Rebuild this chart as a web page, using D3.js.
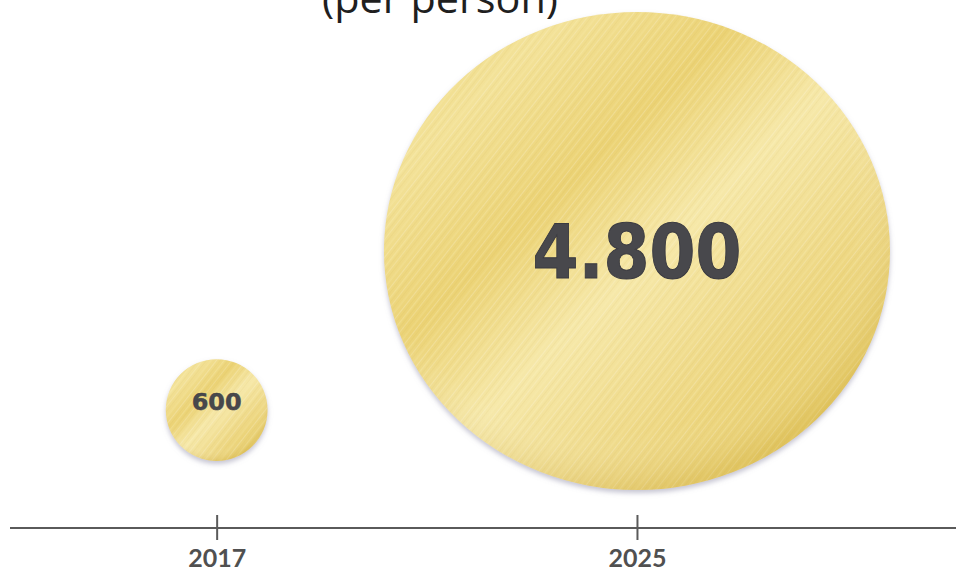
<!DOCTYPE html>
<html>
<head>
<meta charset="utf-8">
<script src="https://cdn.jsdelivr.net/npm/d3@7"></script>
<style>
  html, body { margin: 0; padding: 0; background: #ffffff; }
  svg { display: block; }
</style>
</head>
<body>
<script>
// ---- data ----
const titleText = "(per person)";
const years = [2017, 2025];
const values = [600, 4800];
const valueLabels = ["600", "4.800"];
const tickLabels = ["2017", "2025"];

const W = 956, H = 571;
const svg = d3.select("body").append("svg").attr("width", W).attr("height", H);

// ---- scales ----
const x = d3.scaleLinear().domain([2013, 2031]).range([6.5, 952.2]);
const rx = d3.scaleLinear().domain([0, 4800]).range([22, 253]);
const ry = d3.scaleLinear().domain([0, 4800]).range([24, 239]);
const cy = d3.scaleLinear().domain([600, 4800]).range([410, 251]);
const baseY = 528;

// ---- defs: brushed gold ----
const defs = svg.append("defs");
const grad = defs.append("linearGradient").attr("id", "gold")
  .attr("x1", 0).attr("y1", 0).attr("x2", 1).attr("y2", 1);
[[0, "#ecd577"], [0.18, "#f3e299"], [0.36, "#ebd274"], [0.52, "#f6e8a9"], [0.7, "#eed885"], [0.86, "#e7cc66"], [1, "#dfc257"]]
  .forEach(([o, c]) => grad.append("stop").attr("offset", o).attr("stop-color", c));

const rad = defs.append("radialGradient").attr("id", "shade")
  .attr("cx", 0.45).attr("cy", 0.4).attr("r", 0.6);
rad.append("stop").attr("offset", 0.8).attr("stop-color", "#ffffff").attr("stop-opacity", 0);
rad.append("stop").attr("offset", 1).attr("stop-color", "#c09c34").attr("stop-opacity", 0.2);

const pat = defs.append("pattern").attr("id", "brush")
  .attr("patternUnits", "userSpaceOnUse").attr("width", 23).attr("height", 40)
  .attr("patternTransform", "rotate(38)");
const streaks = [[1, 0.8, "#ffffff", 0.25], [4, 0.6, "#c9a63c", 0.14], [7, 1.3, "#fff8d2", 0.22],
  [10, 0.5, "#b8962f", 0.12], [13, 0.9, "#ffffff", 0.18], [16, 0.6, "#c7a33a", 0.15], [19.5, 1.2, "#fff6c8", 0.2]];
streaks.forEach(([px, w, c, op]) => pat.append("rect").attr("x", px).attr("y", 0)
  .attr("width", w).attr("height", 40).attr("fill", c).attr("opacity", op));

const filt = defs.append("filter").attr("id", "shadow").attr("x", "-10%").attr("y", "-10%")
  .attr("width", "120%").attr("height", "125%");
filt.append("feDropShadow").attr("dx", 0).attr("dy", 3).attr("stdDeviation", 2.5)
  .attr("flood-color", "#8c8aa6").attr("flood-opacity", 0.5);

// ---- bubbles ----
const data = years.map((yr, i) => ({ yr, v: values[i], label: valueLabels[i] }));
const g = svg.append("g");
const bub = g.selectAll("g.bub").data(data).join("g").attr("class", "bub");
bub.append("ellipse")
  .attr("cx", d => x(d.yr)).attr("cy", d => cy(d.v))
  .attr("rx", d => rx(d.v)).attr("ry", d => ry(d.v))
  .attr("fill", "url(#gold)").attr("filter", "url(#shadow)");
bub.append("ellipse")
  .attr("cx", d => x(d.yr)).attr("cy", d => cy(d.v))
  .attr("rx", d => rx(d.v)).attr("ry", d => ry(d.v))
  .attr("fill", "url(#brush)");
bub.append("ellipse")
  .attr("cx", d => x(d.yr)).attr("cy", d => cy(d.v))
  .attr("rx", d => rx(d.v)).attr("ry", d => ry(d.v))
  .attr("fill", "url(#shade)");

bub.append("text")
  .attr("x", d => x(d.yr))
  .attr("y", d => cy(d.v) + (d.v > 1000 ? 27 : 0))
  .attr("text-anchor", "middle")
  .attr("font-family", "'DejaVu Sans', Verdana, sans-serif")
  .attr("font-weight", "bold")
  .attr("font-size", d => d.v > 1000 ? 75 : 23)
  .attr("textLength", d => d.v > 1000 ? 209 : 50)
  .attr("lengthAdjust", "spacingAndGlyphs")
  .attr("fill", "#48484c")
  .attr("stroke", "#3a3a40").attr("stroke-width", d => d.v > 1000 ? 1 : 0.4)
  .text(d => d.label);

// ---- axis ----
svg.append("line").attr("x1", 10).attr("x2", W).attr("y1", baseY).attr("y2", baseY)
  .attr("stroke", "#5a5a5a").attr("stroke-width", 2.2);

const axis = d3.axisBottom(x).tickValues(years).tickSizeInner(12).tickSizeOuter(0)
  .tickPadding(9).tickFormat((d, i) => tickLabels[i]);
const ax = svg.append("g").attr("transform", `translate(0,${baseY})`).call(axis);
ax.select(".domain").remove();
ax.selectAll(".tick line").attr("y1", -13).attr("y2", 12)
  .attr("stroke", "#5a5a5a").attr("stroke-width", 2);
ax.selectAll(".tick text")
  .attr("font-family", "Lato, 'Open Sans', sans-serif")
  .attr("font-weight", "bold").attr("font-size", 25)
  .attr("fill", "#505050");

// ---- title (cropped at top, as in the reference) ----
svg.append("text").attr("x", 440).attr("y", 13)
  .attr("text-anchor", "middle")
  .attr("font-family", "'Open Sans', sans-serif")
  .attr("font-size", 40).attr("fill", "#1f1f1f")
  .attr("textLength", 236).attr("lengthAdjust", "spacingAndGlyphs")
  .text(titleText);
</script>
</body>
</html>
